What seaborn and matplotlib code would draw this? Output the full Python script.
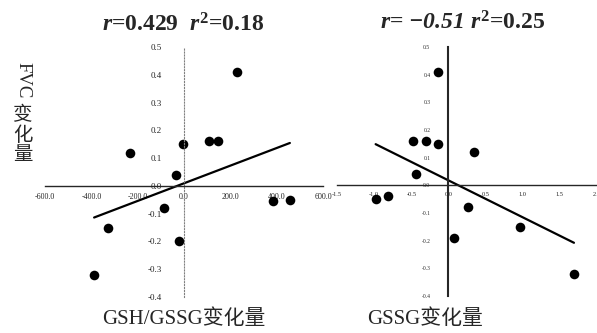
import numpy as np
import pandas as pd
import matplotlib
matplotlib.use('Agg')
import matplotlib.pyplot as plt
import seaborn as sns

# values
gsh_gssg_change = [227, -233, -6, 108, 148, -35, -85, -327, -20, -388, 383, 457]
fvc_change_a = [0.41, 0.12, 0.15, 0.16, 0.16, 0.04, -0.08, -0.15, -0.20, -0.32, -0.055, -0.05]
gssg_change = [-0.14, -0.48, -0.30, -0.14, 0.34, -0.43, -0.98, -0.81, 0.26, 0.07, 0.96, 1.69]
fvc_change_b = [0.41, 0.16, 0.16, 0.15, 0.12, 0.04, -0.05, -0.04, -0.08, -0.19, -0.15, -0.32]

x_ticks_a = [-600, -400, -200, 0, 200, 400, 600]
x_ticks_b = [-1.5, -1.0, -0.5, 0.0, 0.5, 1.0, 1.5, 2.0]
y_ticks = [-0.4, -0.3, -0.2, -0.1, 0.0, 0.1, 0.2, 0.3, 0.4, 0.5]

sns.set_style('white')
plt.rcParams['font.family'] = ['Liberation Serif', 'Noto Sans CJK SC']
plt.rcParams['mathtext.fontset'] = 'custom'
plt.rcParams['mathtext.rm'] = 'Liberation Serif:bold'
plt.rcParams['mathtext.bf'] = 'Liberation Serif:bold'
plt.rcParams['mathtext.it'] = 'Liberation Serif:italic:bold'
plt.rcParams['mathtext.sf'] = 'Liberation Serif:italic:bold'

df_a = pd.DataFrame({'x': gsh_gssg_change, 'y': fvc_change_a})
df_b = pd.DataFrame({'x': gssg_change, 'y': fvc_change_b})

fig = plt.figure(figsize=(5.97, 3.33), dpi=100)
ax1 = fig.add_axes([45/597, 1-297/333, 278/597, 250/333])
ax2 = fig.add_axes([337/597, 1-296/333, 260/597, 249/333])

for ax, df, xt in [(ax1, df_a, x_ticks_a), (ax2, df_b, x_ticks_b)]:
    sns.regplot(data=df, x='x', y='y', ax=ax, ci=None, truncate=True,
                scatter_kws={'s': 48, 'color': 'black', 'alpha': 1, 'linewidths': 0},
                line_kws={'color': 'black', 'lw': 1.6})
    ax.set_xlim(xt[0], xt[-1])
    ax.set_ylim(-0.4, 0.5)
    ax.set_xticks(xt)
    ax.set_xticklabels(['{:.1f}'.format(v) for v in xt])
    ax.set_yticks(y_ticks)
    ax.set_yticklabels(['{:.1f}'.format(v) for v in y_ticks])
    ax.spines['left'].set_position(('data', 0))
    ax.spines['bottom'].set_position(('data', 0))
    ax.spines['right'].set_visible(False)
    ax.spines['top'].set_visible(False)
    ax.spines['bottom'].set_linewidth(1.0)
    ax.tick_params(axis='x', length=2, width=0.6, direction='in')
    ax.tick_params(axis='y', length=2, width=0.6, direction='in')
    ax.set_xlabel('')
    ax.set_ylabel('')
    ax.patch.set_alpha(0)

ax1.tick_params(axis='x', labelsize=5.8, pad=5)
ax1.tick_params(axis='y', labelsize=6.5, pad=16)
ax2.tick_params(axis='x', labelsize=4.6, pad=5)
ax2.tick_params(axis='y', labelsize=4, pad=13)

ax1.spines['left'].set_linestyle(':')
ax1.spines['left'].set_color('gray')
ax1.spines['left'].set_linewidth(0.8)
ax2.spines['left'].set_linewidth(1.5)

fig.text(183/597, 1-25/333, r'$r$=0.429  $r^2$=0.18', fontsize=17, fontweight='bold',
         ha='center', va='center')
fig.text(463/597, 1-23/333, r'$r$= $\mathsf{-0.51}$ $r^2$=0.25', fontsize=17, fontweight='bold',
         ha='center', va='center')

fig.text(184/597, 1-319/333, 'GSH/GSSG变化量', fontsize=15, ha='center', va='center')
fig.text(425/597, 1-319/333, 'GSSG变化量', fontsize=15, ha='center', va='center')

fig.text(23/597, 1-80/333, 'FVC', fontsize=13.5, rotation=270, ha='center', va='center')
fig.text(23/597, 1-135/333, '变\n化\n量', fontsize=14, ha='center', va='center',
         linespacing=1.15)

fig.savefig('out.png', dpi=100)
